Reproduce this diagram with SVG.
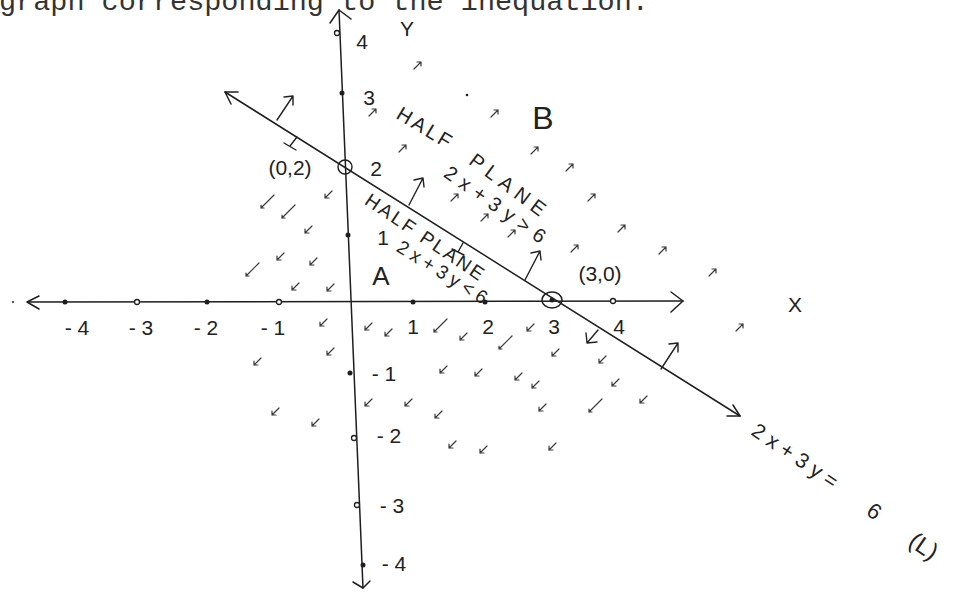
<svg xmlns="http://www.w3.org/2000/svg" width="970" height="592" viewBox="0 0 970 592">
<style>
.ax{stroke:#1e1e1e;stroke-width:1.5;fill:none;stroke-linecap:round;stroke-linejoin:round}
.pa{stroke:#222;stroke-width:1.4;fill:none;stroke-linecap:round;stroke-linejoin:round}
.sm{stroke:#3a3a3a;stroke-width:1.2;fill:none;stroke-linecap:round;stroke-linejoin:round}
.dot{fill:#1e1e1e}
.od{fill:#fff;stroke:#1e1e1e;stroke-width:1.3}
.t{font-family:"Liberation Sans","DejaVu Sans",sans-serif;fill:#222;font-size:21px}
.h{font-family:"Liberation Sans","DejaVu Sans",sans-serif;fill:#222;font-size:20px}
.big{font-family:"Liberation Sans","DejaVu Sans",sans-serif;fill:#222}
.hd{font-family:"Liberation Mono","DejaVu Sans Mono",monospace;fill:#333;font-size:28.5px}
</style>
<defs>
<path id="sw" d="M4,-4L-3,3M-3,3l0,-4M-3,3l4,0"/>
<path id="ne" d="M-4,4L3,-3M3,-3l-4,0M3,-3l0,4"/>
<path id="swl" d="M8,-8L-5,5M-5,5l0,-3M-5,5l3,0"/>
</defs>

<text class="hd" x="-1" y="10">graph corresponding  to the inequation.</text>

<g id="x-axis">
<path class="ax" d="M28,302 L683,301"/>
<path class="ax" d="M39,296 L27,302 L39,309"/>
<path class="ax" d="M671,292 L683,301 L671,312"/>
<circle cx="13" cy="302" r="1" class="dot"/>
<circle cx="65" cy="302" r="2.5" class="dot"/>
<circle cx="137" cy="302" r="2.5" class="od"/>
<circle cx="207" cy="302" r="2.5" class="dot"/>
<circle cx="279" cy="302" r="2.5" class="od"/>
<circle cx="413" cy="302" r="2.5" class="dot"/>
<circle cx="485" cy="302" r="2.5" class="dot"/>
<circle cx="613" cy="301" r="2.5" class="od"/>
<text class="t" x="795" y="312" text-anchor="middle">X</text>
<text class="t" x="77" y="335" text-anchor="middle">- 4</text>
<text class="t" x="141" y="335" text-anchor="middle">- 3</text>
<text class="t" x="206" y="335" text-anchor="middle">- 2</text>
<text class="t" x="273" y="335" text-anchor="middle">- 1</text>
<text class="t" x="413" y="334" text-anchor="middle">1</text>
<text class="t" x="488" y="334" text-anchor="middle">2</text>
<text class="t" x="554" y="334" text-anchor="middle">3</text>
<text class="t" x="619" y="334" text-anchor="middle">4</text>
</g>

<g id="y-axis">
<path class="ax" d="M339,10 L363,588"/>
<path class="ax" d="M330,23 L339,10 L351,19"/>
<path class="ax" d="M353,582 L363,588 L370,581"/>
<circle cx="337" cy="33" r="2.5" class="od"/>
<circle cx="342" cy="93" r="2.5" class="dot"/>
<circle cx="348" cy="235" r="2.5" class="dot"/>
<circle cx="350" cy="373" r="2.5" class="dot"/>
<circle cx="354" cy="438" r="2.5" class="od"/>
<circle cx="357" cy="505" r="2.5" class="od"/>
<circle cx="363" cy="565" r="2.5" class="dot"/>
<text class="t" x="407" y="36" text-anchor="middle">Y</text>
<text class="t" x="362" y="49" text-anchor="middle">4</text>
<text class="t" x="369" y="105" text-anchor="middle">3</text>
<text class="t" x="376" y="176" text-anchor="middle">2</text>
<text class="t" x="383" y="245" text-anchor="middle">1</text>
<text class="t" x="384" y="381" text-anchor="middle">- 1</text>
<text class="t" x="389" y="443" text-anchor="middle">- 2</text>
<text class="t" x="392" y="513" text-anchor="middle">- 3</text>
<text class="t" x="394" y="571" text-anchor="middle">- 4</text>
</g>

<g id="line-L">
<path class="ax" d="M225,92 L740,416"/>
<path class="ax" d="M238,92 L225,92 L231,104"/>
<path class="ax" d="M733,405 L740,416 L727,416"/>
<circle cx="345" cy="167" r="7" fill="none" stroke="#1e1e1e" stroke-width="1.4"/>
<ellipse cx="552" cy="300" rx="10" ry="8" fill="none" stroke="#1e1e1e" stroke-width="1.4"/>
<circle cx="552" cy="300" r="2.5" class="dot"/>
<text class="t" x="290" y="175" text-anchor="middle">(0,2)</text>
<text class="t" x="600" y="281" text-anchor="middle">(3,0)</text>
<g transform="translate(750,434) rotate(34)"><text class="big" x="0" y="0" letter-spacing="6" style="font-size:21px">2x+3y=</text><text class="big" x="140" y="2" style="font-size:22px">6</text><text class="big" x="192" y="4" style="font-size:24px">(L)</text></g>
</g>

<g id="half-plane-arrows">
<path class="pa" d="M277,120 L293,96 M284,97 L293,96 L293,105"/>
<path class="pa" d="M297,137 L290,146 M284,143 L296,150"/>
<path class="pa" d="M409,205 L423,178 M414,180 L423,178 L424,187"/>
<path class="pa" d="M463,243 L458,252 M452,249 L464,255"/>
<path class="pa" d="M525,280 L540,251 M531,253 L540,251 L541,260"/>
<path class="pa" d="M598,330 L587,343 M586,333 L587,343 L597,342"/>
<path class="pa" d="M661,369 L678,343 M669,344 L678,343 L678,352"/>
</g>

<g id="region-A">
<text class="big" x="381" y="285" text-anchor="middle" style="font-size:26px">A</text>
<g transform="translate(422,243) rotate(34)"><text class="h" x="0" y="0" text-anchor="middle" letter-spacing="2.5" style="font-size:19px">HALF PLANE</text></g>
<g transform="translate(441,279) rotate(32)"><text class="h" x="0" y="0" text-anchor="middle" letter-spacing="5" style="font-size:19px">2x+3y&lt;6</text></g>
<g class="sm">
<use href="#swl" x="266" y="203"/>
<use href="#swl" x="287" y="213"/>
<use href="#sw" x="308" y="230"/>
<use href="#sw" x="328" y="195"/>
<use href="#sw" x="280" y="257"/>
<use href="#sw" x="313" y="262"/>
<use href="#swl" x="251" y="271"/>
<use href="#sw" x="295" y="287"/>
<use href="#sw" x="330" y="288"/>
<use href="#sw" x="323" y="323"/>
<use href="#sw" x="368" y="327"/>
<use href="#sw" x="388" y="333"/>
<use href="#swl" x="439" y="327"/>
<use href="#sw" x="463" y="337"/>
<use href="#swl" x="504" y="344"/>
<use href="#sw" x="530" y="328"/>
<use href="#sw" x="555" y="353"/>
<use href="#sw" x="602" y="360"/>
<use href="#sw" x="330" y="352"/>
<use href="#sw" x="257" y="362"/>
<use href="#sw" x="443" y="370"/>
<use href="#sw" x="478" y="373"/>
<use href="#sw" x="518" y="377"/>
<use href="#sw" x="535" y="385"/>
<use href="#sw" x="615" y="383"/>
<use href="#sw" x="368" y="403"/>
<use href="#sw" x="408" y="403"/>
<use href="#sw" x="438" y="415"/>
<use href="#sw" x="542" y="408"/>
<use href="#swl" x="594" y="407"/>
<use href="#sw" x="643" y="400"/>
<use href="#sw" x="452" y="445"/>
<use href="#sw" x="483" y="450"/>
<use href="#sw" x="552" y="447"/>
<use href="#sw" x="275" y="412"/>
<use href="#sw" x="315" y="423"/>
</g>
</g>

<g id="region-B">
<text class="big" x="543" y="129" text-anchor="middle" style="font-size:32px">B</text>
<g transform="translate(422,134) rotate(31)"><text class="h" x="0" y="0" text-anchor="middle" letter-spacing="3">HALF</text></g>
<g transform="translate(506,192) rotate(37)"><text class="h" x="0" y="0" text-anchor="middle" letter-spacing="6">PLANE</text></g>
<g transform="translate(494,212) rotate(35)"><text class="h" x="0" y="0" text-anchor="middle" letter-spacing="7">2x+3y&gt;6</text></g>
<g class="sm">
<use href="#ne" x="418" y="65"/>
<use href="#ne" x="373" y="112"/>
<use href="#ne" x="495" y="113"/>
<use href="#ne" x="403" y="148"/>
<use href="#ne" x="535" y="150"/>
<use href="#ne" x="570" y="167"/>
<use href="#ne" x="455" y="197"/>
<use href="#ne" x="485" y="217"/>
<use href="#ne" x="512" y="233"/>
<use href="#ne" x="592" y="197"/>
<use href="#ne" x="622" y="228"/>
<use href="#ne" x="663" y="250"/>
<use href="#ne" x="575" y="248"/>
<use href="#ne" x="713" y="272"/>
<use href="#ne" x="740" y="327"/>
</g>
<circle cx="467" cy="95" r="1.3" class="dot"/>
</g>
</svg>
